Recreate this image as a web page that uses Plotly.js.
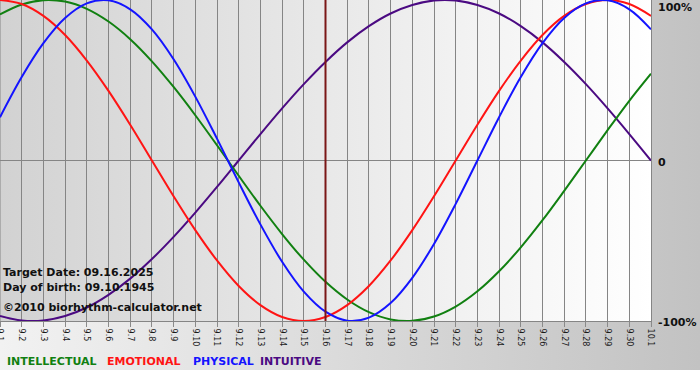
<!DOCTYPE html>
<html>
<head>
<meta charset="utf-8">
<script src="https://cdn.plot.ly/plotly-3.0.1.min.js"></script>
<style>
  html, body { margin: 0; padding: 0; background: #ffffff; }
  #wrap { position: relative; width: 700px; height: 380px; overflow: hidden; background: #ffffff; }
  #bgOuter { position: absolute; left: 0; top: 0; width: 700px; height: 370px;
             background: linear-gradient(to right, #f2f2f2, #c2c2c2); }
  #bgPlot { position: absolute; left: 0; top: 0; width: 651px; height: 321px;
            background: linear-gradient(to right, #d2d2d2, #ffffff); }
  #chart { position: absolute; left: 0; top: 0; width: 700px; height: 380px; }
</style>
</head>
<body>
<div id="wrap">
  <div id="bgOuter"></div>
  <div id="bgPlot"></div>
  <div id="chart"></div>
</div>
<script>
// Day labels (Sept 1 .. Oct 1)
var dayLabels = ["9.1","9.2","9.3","9.4","9.5","9.6","9.7","9.8","9.9","9.10",
  "9.11","9.12","9.13","9.14","9.15","9.16","9.17","9.18","9.19","9.20",
  "9.21","9.22","9.23","9.24","9.25","9.26","9.27","9.28","9.29","9.30","10.1"];

// Series values (fraction of 100%), one per day
var intellectual = [0.910,0.972,0.999,0.990,0.945,0.866,0.756,0.618,0.458,0.282,
  0.095,-0.095,-0.282,-0.458,-0.618,-0.756,-0.866,-0.945,-0.990,-0.999,
  -0.972,-0.910,-0.815,-0.690,-0.541,-0.372,-0.189,0.000,0.189,0.372,0.541];
var emotional = [1.000,0.975,0.901,0.782,0.623,0.434,0.223,0.000,-0.223,-0.434,
  -0.623,-0.782,-0.901,-0.975,-1.000,-0.975,-0.901,-0.782,-0.623,-0.434,
  -0.223,0.000,0.223,0.434,0.623,0.782,0.901,0.975,1.000,0.975,0.901];
var physical = [0.270,0.520,0.731,0.888,0.979,0.998,0.942,0.817,0.631,0.398,
  0.136,-0.136,-0.398,-0.631,-0.817,-0.942,-0.998,-0.979,-0.888,-0.731,
  -0.520,-0.270,0.000,0.270,0.520,0.731,0.888,0.979,0.998,0.942,0.817];
var intuitive = [-0.969,-0.997,-0.997,-0.969,-0.916,-0.837,-0.736,-0.614,-0.476,-0.325,
  -0.165,0.000,0.165,0.325,0.476,0.614,0.736,0.837,0.916,0.969,
  0.997,0.997,0.969,0.916,0.837,0.736,0.614,0.476,0.325,0.165,0.000];

var targetDayLabel = "9.16";
var yTickLabels = ["100%", "0", "-100%"];
var infoLines = ["Target Date: 09.16.2025", "Day of birth: 09.10.1945", "©2010 biorhythm-calculator.net"];
var seriesNames = ["INTELLECTUAL", "EMOTIONAL", "PHYSICAL", "INTUITIVE"];
var seriesColors = ["#118011", "#ff1414", "#1414ff", "#4b0a82"];

var xIdx = dayLabels.map(function(_, i) { return i; });
var seriesData = [intellectual, emotional, physical, intuitive];
var drawOrder = [3, 0, 1, 2];

var traces = drawOrder.map(function(k) {
  return {
    x: xIdx, y: seriesData[k], type: "scatter", mode: "lines",
    name: seriesNames[k],
    line: { color: seriesColors[k], width: 2, shape: "spline", smoothing: 1 },
    hoverinfo: "skip"
  };
});

var targetIdx = dayLabels.indexOf(targetDayLabel);

var annotations = [];
// right side y labels
[1, 0, -1].forEach(function(v, i) {
  var py = v === 1 ? 0.978 : (v === 0 ? 0.494 : -0.006);
  annotations.push({
    xref: "paper", yref: "paper", x: 1, y: py, xanchor: "left", yanchor: "middle",
    xshift: 5, showarrow: false,
    text: "<b>" + yTickLabels[i] + "</b>",
    font: { family: "DejaVu Sans", size: 11, color: "#111111" }
  });
});
// info text
var infoY = [272, 287, 307];
infoLines.forEach(function(t, i) {
  annotations.push({
    xref: "paper", yref: "paper", x: 0, y: (321 - infoY[i]) / 321,
    xanchor: "left", yanchor: "middle", xshift: 1, showarrow: false,
    text: "<b>" + t + "</b>",
    font: { family: "DejaVu Sans", size: 11, color: "#111111" }
  });
});
// legend words
var legendX = [7, 107, 193, 260];
seriesNames.forEach(function(n, i) {
  annotations.push({
    xref: "paper", yref: "paper", x: legendX[i] / 651, y: (321 - 362) / 321,
    xanchor: "left", yanchor: "middle", xshift: -2, showarrow: false,
    text: "<b>" + n + "</b>",
    font: { family: "DejaVu Sans", size: 11, color: seriesColors[i] }
  });
});

var layout = {
  width: 700, height: 380,
  margin: { l: 0, r: 49, t: 0, b: 59, pad: 0 },
  paper_bgcolor: "rgba(0,0,0,0)",
  plot_bgcolor: "rgba(0,0,0,0)",
  showlegend: false,
  xaxis: {
    type: "linear", range: [0, 30], fixedrange: true,
    tickmode: "array", tickvals: xIdx, ticktext: dayLabels,
    tickangle: 90, ticks: "outside", ticklen: 5, tickcolor: "#8a8a8a", tickwidth: 1,
    ticklabeloverflow: "allow",
    tickfont: { family: "DejaVu Sans", size: 8, color: "#1a1a1a" },
    showgrid: true, gridcolor: "#858585", gridwidth: 1,
    showline: true, linecolor: "#858585", linewidth: 1,
    zeroline: false
  },
  yaxis: {
    range: [-1.0, 1.0], fixedrange: true, side: "right",
    showticklabels: false, ticks: "", showgrid: false,
    zeroline: true, zerolinecolor: "#858585", zerolinewidth: 1,
    showline: true, linecolor: "#858585", linewidth: 1
  },
  shapes: [
    { type: "line", xref: "x", yref: "paper", x0: 0, x1: 0, y0: 0, y1: 1,
      line: { color: "#858585", width: 1 }, layer: "below" },
    { type: "line", xref: "x", yref: "paper", x0: targetIdx, x1: targetIdx, y0: 0, y1: 1,
      line: { color: "#7a1616", width: 2 }, layer: "above" }
  ],
  annotations: annotations
};

Plotly.newPlot("chart", traces, layout, { staticPlot: true, displayModeBar: false });
</script>
</body>
</html>
